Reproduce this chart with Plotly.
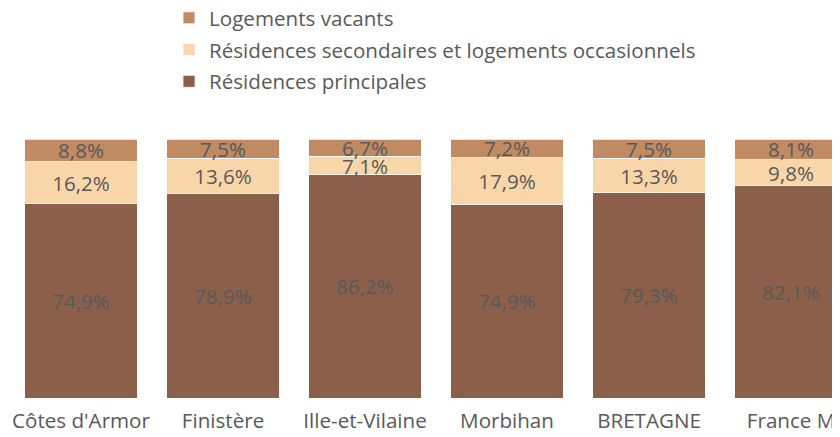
import plotly.graph_objects as go

categories = ["Côtes d'Armor", "Finistère", "Ille-et-Vilaine", "Morbihan", "BRETAGNE", "France M"]
principales = [74.9, 78.9, 86.2, 74.9, 79.3, 82.1]
secondaires = [16.2, 13.6, 7.1, 17.9, 13.3, 9.8]
vacants = [8.8, 7.5, 6.7, 7.2, 7.5, 8.1]

series_names = ["Résidences principales", "Résidences secondaires et logements occasionnels", "Logements vacants"]
series_values = [principales, secondaires, vacants]
colors = ["#8B5F4A", "#F9D6A9", "#C08A63"]

FONT = "Open Sans"
FS = 20.6
xpos = list(range(len(categories)))

def fmt(v):
    return f"{v:.1f}".replace(".", ",") + "%"

fig = go.Figure()
n = len(series_names)
for i, (name, vals, col) in enumerate(zip(series_names, series_values, colors)):
    fig.add_trace(go.Bar(
        x=xpos, y=vals, name=name,
        marker=dict(color=col, line=dict(color="white", width=0.75)),
        text=[fmt(v) for v in vals],
        textposition="inside", insidetextanchor="middle", textangle=0,
        textfont=dict(color="#595959", size=FS, family=FONT),
        legendgroup=f"g{i}",
        legendrank=1000 + (n - i),
        width=0.79,
        cliponaxis=True,
    ))

fig.update_layout(
    barmode="stack", barnorm="percent",
    width=840, height=437,
    margin=dict(l=0, r=0, t=0, b=47, autoexpand=False),
    paper_bgcolor="white", plot_bgcolor="white",
    font=dict(family=FONT, size=FS, color="#595959"),
    uniformtext=dict(minsize=FS, mode="show"),
    showlegend=True,
    legend=dict(
        traceorder="grouped", orientation="v",
        x=0.1917, y=1.026, xanchor="left", yanchor="top",
        font=dict(size=FS, color="#595959", family=FONT),
        tracegroupgap=2, bgcolor="rgba(0,0,0,0)",
    ),
    xaxis=dict(type="linear", range=[-0.514, 5.401], showgrid=False, zeroline=False, showline=False,
               ticks="", tickmode="array", tickvals=xpos, ticktext=categories, tickangle=0,
               ticklabelstandoff=8,
               tickfont=dict(size=FS, color="#595959", family=FONT)),
    yaxis=dict(range=[0, 150.58], visible=False, showgrid=False, zeroline=False),
)

fig.write_html("out.html")
